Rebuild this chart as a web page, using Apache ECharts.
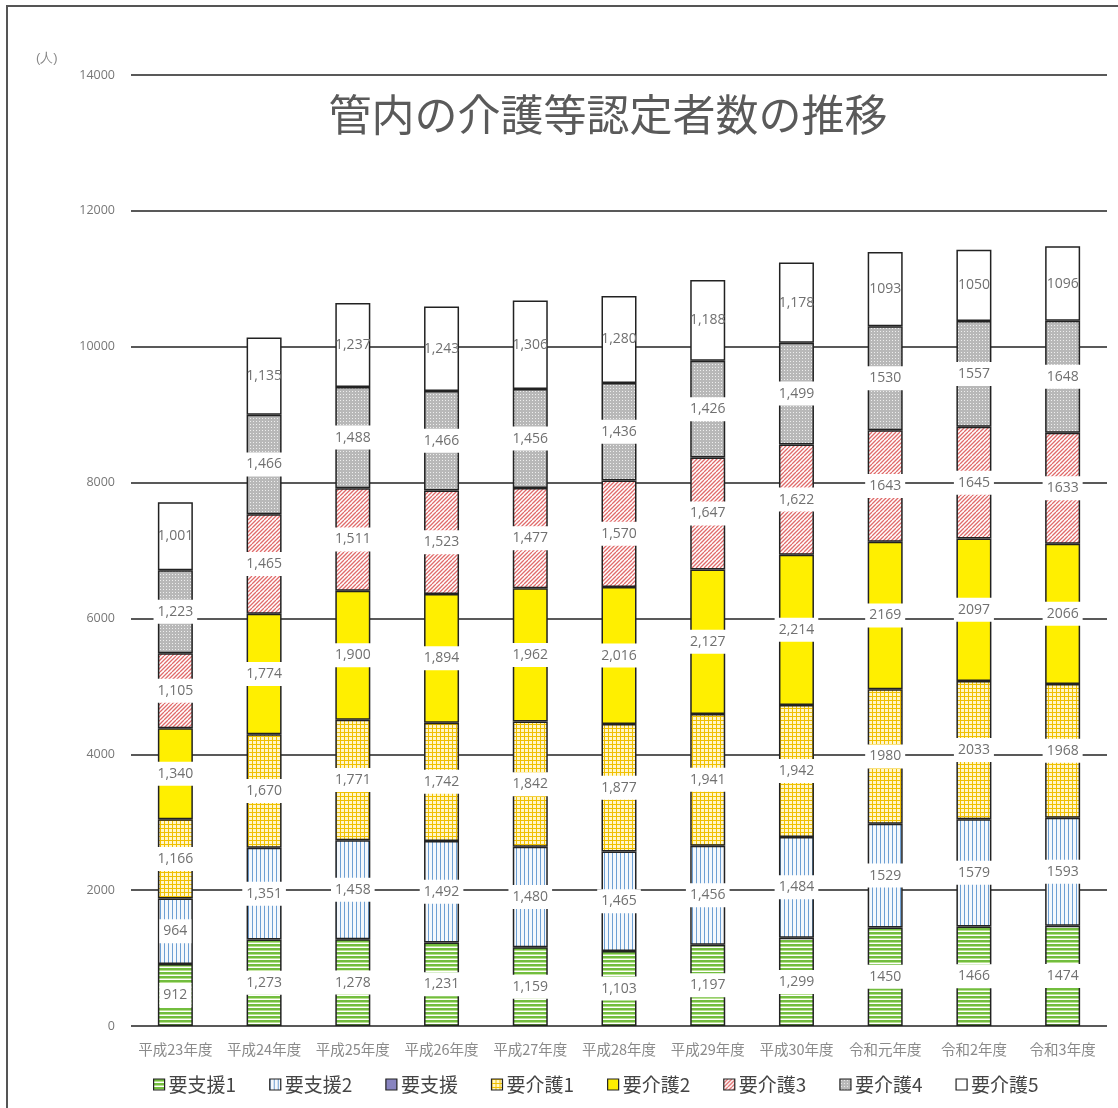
<!DOCTYPE html>
<html><head><meta charset="utf-8">
<script src="https://cdn.jsdelivr.net/npm/echarts@6/dist/echarts.min.js"></script>
<style>html,body{margin:0;padding:0;background:#fff}#c{width:1118px;height:1108px}</style>
</head><body><div id="c"></div>
<script>
const categories = ['平成23年度','平成24年度','平成25年度','平成26年度','平成27年度','平成28年度','平成29年度','平成30年度','令和元年度','令和2年度','令和3年度'];
const useComma = [true,true,true,true,true,true,true,true,false,false,false];
const seriesNames = ['要支援1','要支援2','要支援','要介護1','要介護2','要介護3','要介護4','要介護5'];
const shien1 = [912,1273,1278,1231,1159,1103,1197,1299,1450,1466,1474];
const shien2 = [964,1351,1458,1492,1480,1465,1456,1484,1529,1579,1593];
const shien = [null,null,null,null,null,null,null,null,null,null,null];
const kaigo1 = [1166,1670,1771,1742,1842,1877,1941,1942,1980,2033,1968];
const kaigo2 = [1340,1774,1900,1894,1962,2016,2127,2214,2169,2097,2066];
const kaigo3 = [1105,1465,1511,1523,1477,1570,1647,1622,1643,1645,1633];
const kaigo4 = [1223,1466,1488,1466,1456,1436,1426,1499,1530,1557,1648];
const kaigo5 = [1001,1135,1237,1243,1306,1280,1188,1178,1093,1050,1096];
const yTicks = [0,2000,4000,6000,8000,10000,12000,14000];

function pat(size, draw){
  const c=document.createElement('canvas'); c.width=size; c.height=size;
  const g=c.getContext('2d'); g.fillStyle='#fff'; g.fillRect(0,0,size,size); draw(g);
  return {image:c, repeat:'repeat'};
}
const pGreen = pat(4,g=>{g.fillStyle='#72bd3e';g.fillRect(0,0,4,2);g.fillStyle='#b8e08f';g.fillRect(0,2,4,1);});
const pBlue = pat(4,g=>{g.fillStyle='#f4f8fc';g.fillRect(0,0,4,4);g.fillStyle='#6d9fd3';g.fillRect(0,0,1,4);});
const pGrid = pat(4,g=>{g.fillStyle='#fff6c8';g.fillRect(0,0,4,4);g.fillStyle='#f0c000';g.fillRect(0,0,4,1);g.fillRect(0,0,1,4);});
const pRed = pat(8,g=>{g.fillStyle='#fff';g.fillRect(0,0,8,8);g.strokeStyle='#e06a6a';g.lineWidth=1.3;
  g.beginPath();for(let k=-8;k<=16;k+=4){g.moveTo(k,8);g.lineTo(k+8,0);}g.stroke();});
const pGray = pat(3,g=>{g.fillStyle='#b8b8b8';g.fillRect(0,0,3,3);g.fillStyle='#eeeeee';g.fillRect(1,1,1,1);});
const colors = [pGreen,pBlue,'#8884c0',pGrid,'#ffef00',pRed,pGray,'#ffffff'];
const dataSets = [shien1,shien2,shien,kaigo1,kaigo2,kaigo3,kaigo4,kaigo5];

function fmt(p){
  if(p.value==null) return '';
  return useComma[p.dataIndex] ? p.value.toLocaleString('en-US') : String(p.value);
}

const series = seriesNames.map((n,i)=>({
  name:n, type:'bar', stack:'total', barWidth:35, data:dataSets[i],
  itemStyle:{color:colors[i], borderColor:'#222', borderWidth:1.5},
  label:{show:i!==2, position:'inside', formatter:fmt, color:'#707070', fontSize:14,
    fontFamily:'Open Sans', backgroundColor: i===7?'transparent':'#fff', padding:[5,4]},
  emphasis:{disabled:true}
}));

const chart = echarts.init(document.getElementById('c'),null,{renderer:'canvas'});
chart.setOption({
  animation:false,
  backgroundColor:'#fff',
  title:{text:'管内の介護等認定者数の推移', left:603, top:88, textAlign:'center',
    textStyle:{fontSize:43, fontWeight:'normal', color:'#5a5a5a', fontFamily:'Noto Sans CJK JP'}},
  graphic:[
    {type:'line', shape:{x1:6,y1:6,x2:1118,y2:6}, style:{stroke:'#555',lineWidth:2}},
    {type:'line', shape:{x1:7,y1:6,x2:7,y2:1108}, style:{stroke:'#555',lineWidth:2}},
    {type:'text', left:36, top:52, style:{text:'(人)', fill:'#888', fontSize:13, font:'13px "Noto Sans CJK JP"'}}
  ],
  grid:{left:131, right:11, top:75, bottom:82},
  legend:{bottom:9, left:148, itemWidth:11, itemHeight:11, itemGap:33,
    icon:'rect', textStyle:{fontSize:19, color:'#444', fontFamily:'Noto Sans CJK JP', padding:[0,0,0,-1]},
    itemStyle:{borderColor:'#222', borderWidth:1.2}, data:seriesNames},
  xAxis:{type:'category', data:categories,
    axisLine:{show:false}, axisTick:{show:false},
    axisLabel:{color:'#8a8a8a', fontSize:14.5, fontFamily:'Noto Sans CJK JP', margin:16, interval:0}},
  yAxis:{type:'value', min:0, max:14000, interval:2000,
    axisLine:{show:false}, axisTick:{show:false},
    axisLabel:{color:'#777', fontSize:12.5, fontFamily:'Open Sans', margin:16,
      formatter:v=> yTicks.includes(v)?String(v):''},
    splitLine:{lineStyle:{color:'#222', width:1.5}}},
  series: series
});
</script></body></html>
